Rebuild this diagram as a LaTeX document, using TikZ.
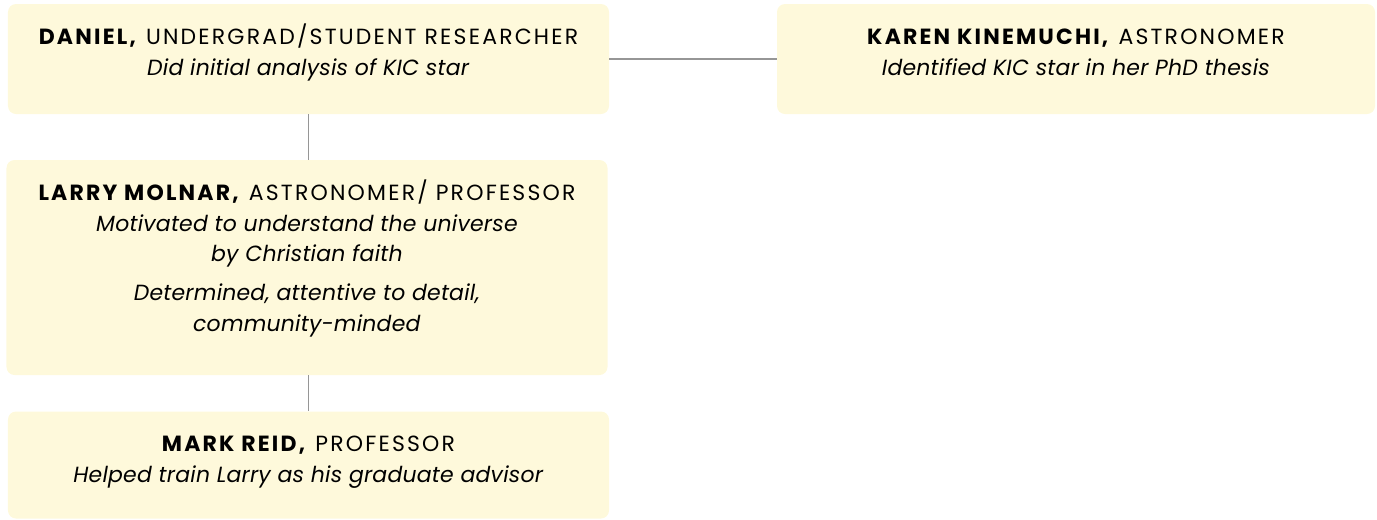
\documentclass[tikz,border=0pt]{standalone}
\usepackage{fontspec}
\setmainfont[Ligatures=NoCommon]{Poppins}
\usepackage{tikz}
\usetikzlibrary{calc}
\usetikzlibrary{positioning}
\definecolor{cardfill}{RGB}{254,249,219}
\definecolor{linkgray}{RGB}{150,150,150}
\tikzstyle{card} = [draw=none, fill=cardfill, rounded corners=0.16cm, minimum width=12.02cm, minimum height=2.2cm]
\tikzstyle{cardtext} = [anchor=north, inner sep=0pt, align=center, font=\fontsize{12.5}{17.6}\selectfont]
\tikzstyle{link} = [draw=linkgray, line width=0.85pt]
\newcommand{\who}[2]{\rule{0pt}{18pt}{\addfontfeature{LetterSpace=10}\textbf{#1} #2}}
\newcommand{\what}[1]{{\addfontfeature{LetterSpace=1}\textit{#1}}}

\begin{document}
\begin{tikzpicture}[auto, node distance=2cm, scale=1]
  \useasboundingbox (0,0) rectangle (27.54,-10.38);
  \node [card, name=daniel] at (6.17,-1.18) {};
  \node [card, minimum width=11.96cm, name=karen] at (21.52,-1.18) {};
  \node [card, minimum height=4.3cm, name=larry] at (6.14,-5.35) {};
  \node [card, minimum height=2.14cm, name=mark] at (6.17,-9.3) {};
  \node [cardtext, name=danieltext] at ($(daniel.north)+(0,-0.17)$)
    {\who{DANIEL,}{UNDERGRAD/STUDENT RESEARCHER}\\ \what{Did initial analysis of KIC star}};
  \node [cardtext, name=karentext] at ($(karen.north)+(0,-0.17)$)
    {\who{KAREN KINEMUCHI,}{ASTRONOMER}\\ \what{Identified KIC star in her PhD thesis}};
  \node [cardtext, name=larrytext] at ($(larry.north)+(0,-0.17)$)
    {\who{LARRY MOLNAR,}{ASTRONOMER/ PROFESSOR}\\ \what{Motivated to understand the universe}\\
     \what{by Christian faith}\\[4.5pt] \what{Determined, attentive to detail,}\\ \what{community-minded}};
  \node [cardtext, name=marktext] at ($(mark.north)+(0,-0.17)$)
    {\who{MARK REID,}{PROFESSOR}\\ \what{Helped train Larry as his graduate advisor}};
  \draw [link] (daniel.east) -- (karen.west);
  \draw [link] (daniel.south) -- (daniel.south |- larry.north);
  \draw [link] (mark.north |- larry.south) -- (mark.north);
\end{tikzpicture}
\end{document}
